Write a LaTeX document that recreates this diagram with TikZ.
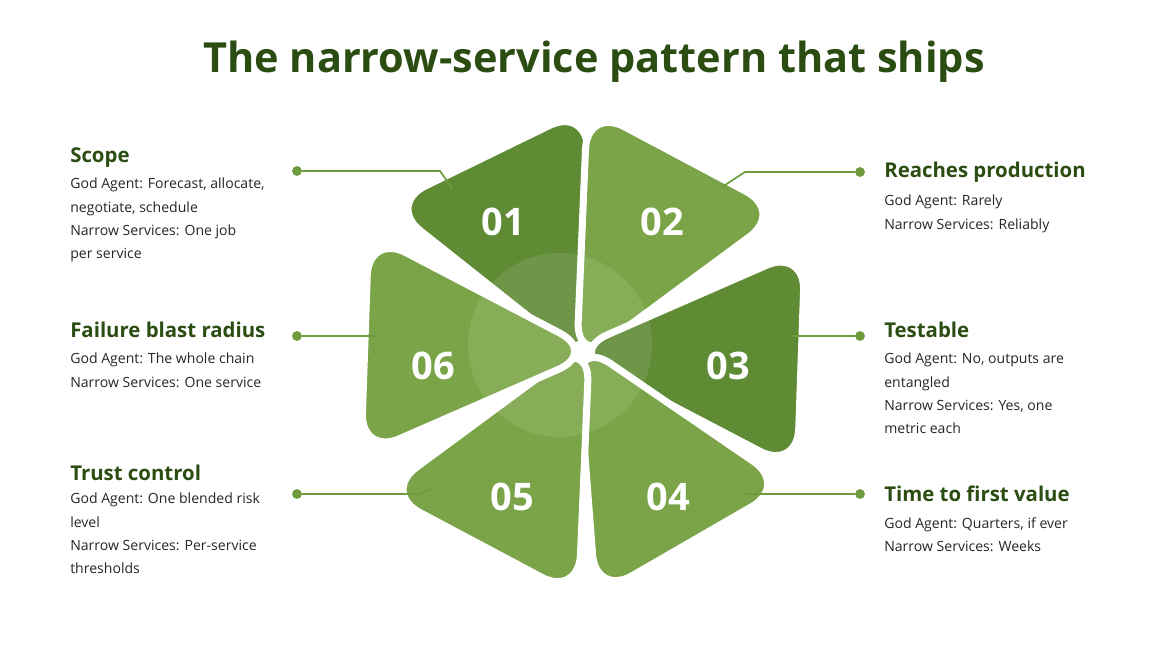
\documentclass[tikz,border=0pt]{standalone}
\usepackage{fontspec}
\setmainfont{Open Sans}
\usetikzlibrary{calc}
\definecolor{dkgreen}{HTML}{2B4D12}
\definecolor{petalA}{HTML}{5F8B34}
\definecolor{petalB}{HTML}{7AA447}
\definecolor{leadc}{HTML}{6E9B3E}
\tikzset{
  petal/.style={draw=white, line width=5pt, rounded corners=30pt},
  num/.style={text=white, font=\fontsize{27}{27}\selectfont\bfseries},
  head/.style={anchor=west, text=dkgreen, font=\fontsize{14.5}{16}\selectfont\bfseries, inner sep=0pt},
  body/.style={anchor=north west, align=left, font=\fontsize{10}{16.5}\selectfont, text=black!85, inner sep=0pt},
  lead/.style={draw=leadc, line width=1.2pt},
  dot/.style={circle, fill=leadc, inner sep=0pt, minimum size=7pt}
}
\begin{document}
\begin{tikzpicture}[x=0.025cm, y=-0.025cm]
  \useasboundingbox (0,0) rectangle (1170,658);
  \coordinate (ctr) at (583,352);

  % petals
  \foreach \d/\c [count=\i] in {116/petalA, 62/petalB, -2/petalA, -60/petalB, -118/petalB, 178/petalB}{
    \fill[petal, fill=\c] ($(ctr)+({\d}:-14 and 14)$) -- ($(ctr)+({\d-27}:245 and -245)$)
      -- ($(ctr)+({\d+27}:245 and -245)$) -- cycle;
  }
  \fill[white, opacity=0.1] (560,345) circle (92);

  \node[num] (n01) at (503,222) {01};
  \node[num] (n02) at (662,222) {02};
  \node[num] (n03) at (728,366) {03};
  \node[num] (n04) at (668,497) {04};
  \node[num] (n05) at (512,497) {05};
  \node[num] (n06) at (433,366) {06};

  % title
  \node[text=dkgreen, font=\fontsize{29.5}{30}\selectfont\bfseries] (title) at (594,62) {The narrow-service pattern that ships};

  % left texts
  \node[head] (h1) at (70,158) {Scope};
  \node[body] (b1) at (70,178) {God Agent: Forecast, allocate,\\negotiate, schedule\\Narrow Services: One job\\per service};
  \node[head] (h6) at (70,330) {Failure blast radius};
  \node[body] (b6) at (70,353) {God Agent: The whole chain\\Narrow Services: One service};
  \node[head] (h5) at (70,473) {Trust control};
  \node[body] (b5) at (70,493) {God Agent: One blended risk\\level\\Narrow Services: Per-service\\thresholds};

  % right texts
  \node[head] (h2) at (884,172) {Reaches production};
  \node[body] (b2) at (884,195) {God Agent: Rarely\\Narrow Services: Reliably};
  \node[head] (h3) at (884,330) {Testable};
  \node[body] (b3) at (884,353) {God Agent: No, outputs are\\entangled\\Narrow Services: Yes, one\\metric each};
  \node[head] (h4) at (884,494) {Time to first value};
  \node[body] (b4) at (884,517) {God Agent: Quarters, if ever\\Narrow Services: Weeks};

  % leaders
  \node[dot] (d1) at (297,171) {};
  \node[dot] (d6) at (297,336) {};
  \node[dot] (d5) at (297,494) {};
  \node[dot] (d2) at (860,172) {};
  \node[dot] (d3) at (860,336) {};
  \node[dot] (d4) at (860,494) {};
  \coordinate (e1) at (452,188);
  \coordinate (e6) at (378,336);
  \coordinate (e5) at (430,489);
  \coordinate (e2) at (722,187);
  \coordinate (e3) at (790,336);
  \coordinate (e4) at (745,494);
  \draw[lead] (d1) -- (440,171) -- (e1);
  \draw[lead] (d6) -- (e6);
  \draw[lead] (d5) -- (420,494) -- (e5);
  \draw[lead] (d2) -- (745,172) -- (e2);
  \draw[lead] (d3) -- (e3);
  \draw[lead] (d4) -- (e4);
\end{tikzpicture}
\end{document}
